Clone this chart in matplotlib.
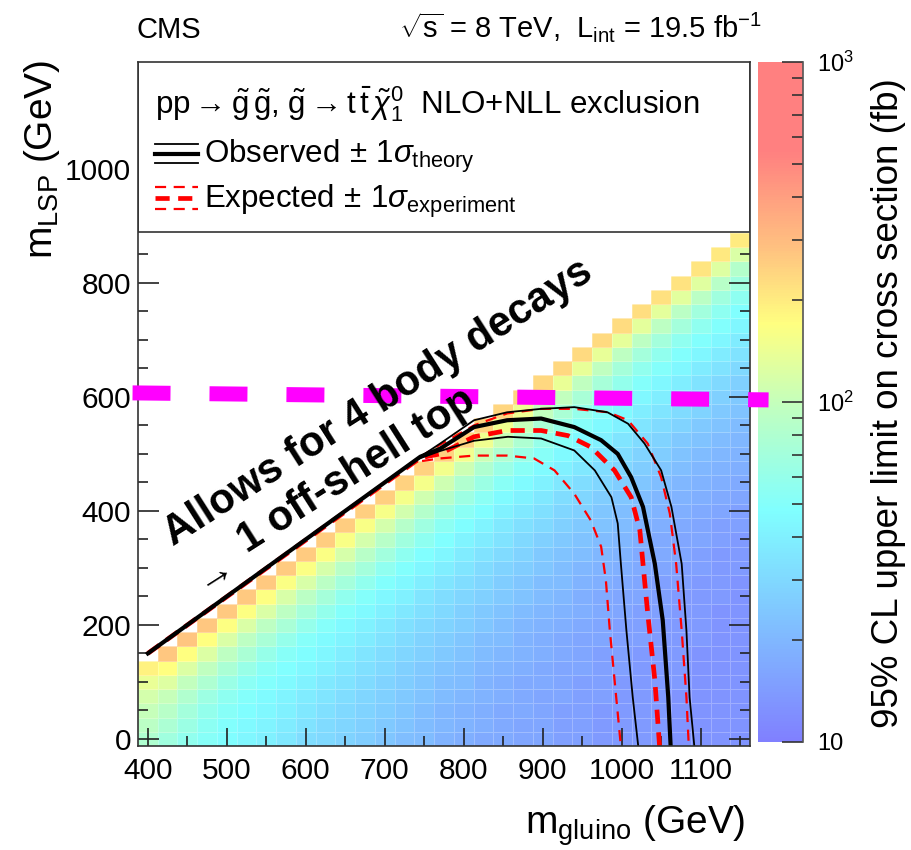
import numpy as np
import matplotlib
matplotlib.use('Agg')
import matplotlib.pyplot as plt
from matplotlib.colors import LinearSegmentedColormap, LogNorm
from matplotlib.lines import Line2D
from matplotlib.patches import Rectangle
from matplotlib.ticker import MultipleLocator

plt.rcParams['font.family'] = ['Liberation Sans', 'DejaVu Sans']
plt.rcParams['mathtext.fontset'] = 'custom'
plt.rcParams['mathtext.rm'] = 'Liberation Sans'
plt.rcParams['mathtext.it'] = 'Liberation Sans:italic'
plt.rcParams['mathtext.bf'] = 'Liberation Sans:bold'
plt.rcParams['mathtext.sf'] = 'Liberation Sans'

# gluino mass bins (GeV), 25 GeV wide
m_gluino = list(range(400, 1175, 25))

# 95% CL upper limits (fb) per gluino column, listed from the diagonal
# (m_LSP = m_gluino - 275) down to m_LSP = 0 in 25 GeV steps
upper_limit_fb = [
    [190, 140, 115, 100, 90, 80],
    [270, 170, 125, 100, 88, 77, 68],
    [275, 170, 124, 98, 82, 71, 64, 58],
    [272, 170, 122, 95, 78, 66, 59, 55, 52],
    [268, 168, 121, 94, 76, 63, 56, 52, 49, 47],
    [265, 168, 120, 93, 75, 62, 54, 50, 47, 45, 43],
    [265, 166, 120, 92, 74, 61, 53, 49, 46, 44, 42, 40],
    [262, 165, 119, 92, 74, 60, 52, 48, 45, 42, 40, 38, 36],
    [260, 164, 118, 91, 73, 60, 51, 47, 44, 41, 38, 36, 34, 32],
    [258, 163, 117, 90, 72, 59, 51, 46, 43, 40, 37, 35, 33, 31, 30],
    [256, 162, 116, 89, 71, 58, 50, 45, 42, 39, 36, 34, 32, 30, 29, 28],
    [254, 160, 115, 88, 70, 58, 50, 45, 41, 38, 35, 33, 31, 29, 28, 27, 26],
    [252, 158, 114, 87, 69, 57, 49, 44, 40, 37, 34, 32, 30, 28, 27, 26, 25, 24],
    [250, 156, 112, 86, 68, 56, 49, 44, 40, 36, 33, 31, 29, 27, 26, 25, 24, 23, 22],
    [248, 154, 110, 85, 67, 56, 48, 43, 39, 35, 33, 30, 28, 27, 25, 24, 23, 22, 21, 21],
    [246, 152, 108, 84, 66, 55, 48, 43, 39, 35, 32, 30, 28, 26, 25, 23, 22, 21, 20, 20, 19],
    [244, 150, 106, 82, 65, 54, 47, 42, 38, 35, 32, 29, 27, 26, 24, 23, 22, 21, 20, 19, 19, 18],
    [242, 148, 104, 80, 64, 54, 47, 42, 38, 34, 31, 29, 27, 25, 24, 22, 21, 20, 19, 19, 18, 18, 17],
    [240, 146, 102, 79, 63, 53, 46, 41, 37, 34, 31, 28, 26, 25, 23, 22, 21, 20, 19, 18, 18, 17, 17, 17],
    [238, 144, 100, 78, 62, 53, 46, 41, 37, 33, 30, 28, 26, 24, 23, 21, 20, 19, 19, 18, 17, 17, 17, 16, 16],
    [236, 142, 98, 76, 61, 52, 46, 41, 36, 33, 30, 27, 25, 24, 22, 21, 20, 19, 18, 18, 17, 17, 16, 16, 16, 16],
    [234, 140, 97, 75, 61, 52, 45, 40, 36, 32, 29, 27, 25, 23, 22, 21, 20, 19, 18, 17, 17, 16, 16, 16, 15, 15, 15],
    [232, 138, 96, 74, 60, 51, 45, 40, 36, 32, 29, 27, 25, 23, 22, 20, 19, 18, 18, 17, 16, 16, 16, 15, 15, 15, 15, 15],
    [230, 137, 95, 73, 60, 51, 45, 40, 35, 32, 29, 26, 24, 23, 21, 20, 19, 18, 17, 17, 16, 16, 15, 15, 15, 15, 14, 14, 14],
    [226, 135, 94, 72, 59, 50, 45, 40, 35, 32, 29, 26, 24, 22, 21, 20, 19, 18, 17, 16, 16, 15, 15, 15, 15, 14, 14, 14, 14, 14],
    [222, 133, 93, 71, 58, 50, 44, 39, 35, 31, 28, 26, 24, 22, 21, 19, 18, 17, 17, 16, 16, 15, 15, 15, 14, 14, 14, 14, 14, 14, 14],
    [218, 131, 92, 70, 58, 50, 44, 39, 35, 31, 28, 26, 24, 22, 20, 19, 18, 17, 17, 16, 15, 15, 15, 14, 14, 14, 14, 14, 14, 14, 14, 14],
    [214, 129, 91, 70, 57, 49, 44, 39, 34, 31, 28, 25, 23, 22, 20, 19, 18, 17, 16, 16, 15, 15, 14, 14, 14, 14, 14, 14, 14, 13, 13, 13, 13],
    [210, 127, 90, 69, 57, 49, 43, 38, 34, 31, 28, 25, 23, 21, 20, 19, 18, 17, 16, 16, 15, 15, 14, 14, 14, 14, 14, 13, 13, 13, 13, 13, 13, 13],
    [205, 125, 88, 68, 56, 49, 43, 38, 34, 30, 27, 25, 23, 21, 20, 19, 18, 17, 16, 15, 15, 14, 14, 14, 14, 13, 13, 13, 13, 13, 13, 13, 13, 13, 13],
    [200, 120, 85, 67, 56, 48, 43, 38, 34, 30, 27, 25, 23, 21, 20, 19, 18, 17, 16, 15, 15, 14, 14, 14, 13, 13, 13, 13, 13, 13, 13, 13, 13, 13, 13, 13],
]

# exclusion contours (m_gluino, m_LSP) in GeV
obs_g = [400, 745, 770, 813, 855, 898, 940, 974, 995, 1012, 1027, 1042, 1052, 1059, 1062]
obs_l = [150, 495, 509, 547, 559, 562, 547, 524, 500, 459, 407, 307, 208, 73, -13]
obs_up_g = [400, 745, 770, 813, 855, 898, 940, 982, 1008, 1029, 1050, 1063, 1076, 1082, 1086, 1092]
obs_up_l = [150, 495, 518, 559, 573, 579, 582, 573, 553, 518, 471, 407, 307, 190, 73, -13]
obs_dn_g = [400, 740, 770, 813, 856, 898, 940, 966, 987, 995, 999, 1006, 1014, 1021]
obs_dn_l = [150, 490, 505, 523, 530, 527, 506, 471, 424, 378, 307, 190, 73, -13]
exp_g = [400, 745, 770, 813, 855, 898, 932, 961, 991, 1012, 1023, 1027, 1033, 1042, 1048]
exp_l = [150, 493, 500, 530, 541, 541, 532, 512, 471, 424, 366, 307, 220, 103, -13]
exp_up_g = [400, 745, 770, 813, 855, 898, 940, 983, 1008, 1033, 1050, 1061, 1069, 1076, 1082, 1085]
exp_up_l = [150, 495, 516, 550, 571, 579, 579, 573, 559, 518, 459, 395, 307, 190, 73, -13]
exp_dn_g = [400, 735, 770, 813, 855, 889, 915, 940, 961, 974, 980, 985, 991, 999]
exp_dn_l = [150, 485, 492, 497, 497, 492, 471, 430, 383, 337, 278, 190, 103, -13]

# pastel rainbow palette
cmap = LinearSegmentedColormap.from_list('pastel_rainbow', [
    (0.0, '#8080ff'), (0.17, '#80bfff'), (0.34, '#80ffff'), (0.49, '#c0ffc0'),
    (0.615, '#ffff80'), (0.73, '#ffc080'), (0.87, '#ff8080'), (1.0, '#ff8080')])
norm = LogNorm(vmin=10, vmax=1000)

W, H = 912, 850
fig = plt.figure(figsize=(W / 100, H / 100), dpi=100)
ax = fig.add_axes([138 / W, 1 - 746 / H, 612 / W, 684 / H])
cax = fig.add_axes([758 / W, 1 - 742 / H, 45 / W, 680 / H])


def fig_xy(px, py):
    return px / W, 1 - py / H


# fill the triangle of mass points below the diagonal
Z = np.full((36, len(m_gluino)), np.nan)
for i, (g, col) in enumerate(zip(m_gluino, upper_limit_fb)):
    for k, v in enumerate(col):
        Z[(g - 275) // 25 - k, i] = v
g_edges = np.arange(387.5, 1175, 25)
l_edges = np.arange(-12.5, 900, 25)
mesh = ax.pcolormesh(g_edges, l_edges, np.ma.masked_invalid(Z), cmap=cmap, norm=norm,
                     edgecolors=(1, 1, 1, 0.25), linewidth=0.6)

# expected first, observed on top
dash_thick = (0, (3.0, 1.8))
dash_thin = (0, (5.0, 3.4))
ax.plot(exp_up_g, exp_up_l, color='red', lw=1.6, linestyle=dash_thin, zorder=2)
ax.plot(exp_dn_g, exp_dn_l, color='red', lw=1.6, linestyle=dash_thin, zorder=2)
ax.plot(exp_g, exp_l, color='red', lw=3.4, linestyle=dash_thick, zorder=2)
ax.plot(obs_up_g, obs_up_l, color='black', lw=1.3, zorder=2.1)
ax.plot(obs_dn_g, obs_dn_l, color='black', lw=1.3, zorder=2.1)
ax.plot(obs_g, obs_l, color='black', lw=3.0, zorder=2.1)

ax.set_xlim(387.5, 1162.5)
ax.set_ylim(-12.5, 1187.5)

# white legend box across the top of the frame
ax.add_patch(Rectangle((387.5, 889), 775, 300, facecolor='white', edgecolor='#333333',
                       lw=1.2, zorder=2.4))

for s in ax.spines.values():
    s.set_linewidth(1.2)
    s.set_edgecolor('#333333')
ax.set_xticks(range(400, 1101, 100))
ax.set_yticks(range(0, 1001, 200))
ax.xaxis.set_minor_locator(MultipleLocator(50))
ax.yaxis.set_minor_locator(MultipleLocator(50))
ax.tick_params(axis='both', which='both', direction='in', color='#222222', width=1.2)
ax.tick_params(axis='x', which='major', length=13, labelsize=21.5, pad=8, top=False)
ax.tick_params(axis='x', which='minor', length=7, top=False)
ax.tick_params(axis='y', which='major', length=15, labelsize=21.5, pad=5, right=True)
ax.tick_params(axis='y', which='minor', length=7.5, right=True)

# colour scale
cb = fig.colorbar(mesh, cax=cax)
cb.outline.set_visible(False)
cb.minorticks_on()
cax.set_yticks([10, 100, 1000])
cax.set_yticklabels(['10', r'$10^{2}$', r'$10^{3}$'])
cax.yaxis.set_ticks_position('right')
cax.tick_params(which='both', direction='in', color='#333333', width=1.2)
cax.tick_params(which='major', length=15, labelsize=17, pad=10)
cax.tick_params(which='minor', length=8)
cax.plot([1, 1], [10, 1000], color='#555555', lw=1.2, clip_on=False)

# texts around the frame
fig.text(*fig_xy(137, 38), 'CMS', fontsize=21, ha='left', va='baseline')
fig.text(*fig_xy(762, 38), r'$\sqrt{\mathrm{s}}$ = 8 TeV,  L$_{\mathrm{int}}$ = 19.5 fb$^{-1}$',
         fontsize=21, ha='right', va='baseline')
fig.text(*fig_xy(745, 834), r'm$_{\mathrm{gluino}}$ (GeV)', fontsize=28, ha='right', va='baseline')
fig.text(*fig_xy(42, 60), r'm$_{\mathrm{LSP}}$ (GeV)', fontsize=28, rotation=90,
         ha='center', va='top')
fig.text(*fig_xy(889, 78), '95% CL upper limit on cross section (fb)', fontsize=26.5,
         rotation=90, ha='center', va='top')

# legend entries
fig.text(*fig_xy(155, 113),
         r'pp$\rightarrow\tilde{\mathrm{g}}\,\tilde{\mathrm{g}}$, '
         r'$\tilde{\mathrm{g}}\rightarrow\mathrm{t}\,\bar{\mathrm{t}}\,\tilde{\chi}^{0}_{1}$  NLO+NLL exclusion',
         fontsize=22.5, ha='left', va='baseline')
fig.text(*fig_xy(204, 163), r'Observed$\,\pm\,$1$\sigma_{\mathrm{theory}}$',
         fontsize=22.5, ha='left', va='baseline')
fig.text(*fig_xy(204, 208), r'Expected$\,\pm\,$1$\sigma_{\mathrm{experiment}}$',
         fontsize=22.5, ha='left', va='baseline')
x0, x1 = 155 / W, 198 / W
for py, lw in [(144, 1.3), (153.5, 3.0), (163, 1.3)]:
    fig.add_artist(Line2D([x0, x1], [1 - py / H] * 2, color='black', lw=lw,
                          transform=fig.transFigure))
for py, lw, ls in [(187, 1.6, dash_thin), (197.5, 3.4, dash_thick), (209, 1.6, dash_thin)]:
    fig.add_artist(Line2D([x0, x1], [1 - py / H] * 2, color='red', lw=lw, linestyle=ls,
                          transform=fig.transFigure))

# m_LSP = 600 GeV marker, running over the frame edges
fig.add_artist(Line2D([380.6, 1186], [607, 594.7], transform=ax.transData, color='#ff00ff',
                      lw=10.8, linestyle=(0, (2.53, 2.6)), dash_capstyle='butt', zorder=2.5))

# annotation along the diagonal
fig.text(692, 590, 'Allows for 4 body decays', transform=ax.transData, fontsize=30,
         fontweight='bold', rotation=32.5, rotation_mode='anchor', ha='center', va='center',
         zorder=4)
fig.text(664, 471, '1 off-shell top', transform=ax.transData, fontsize=30,
         fontweight='bold', rotation=32.5, rotation_mode='anchor', ha='center', va='center',
         zorder=4)
fig.text(484, 292, '\u2192', transform=ax.transData, fontsize=28,
         rotation=32.5, rotation_mode='anchor', ha='center', va='center', zorder=4)

fig.savefig('out.png', dpi=100)
